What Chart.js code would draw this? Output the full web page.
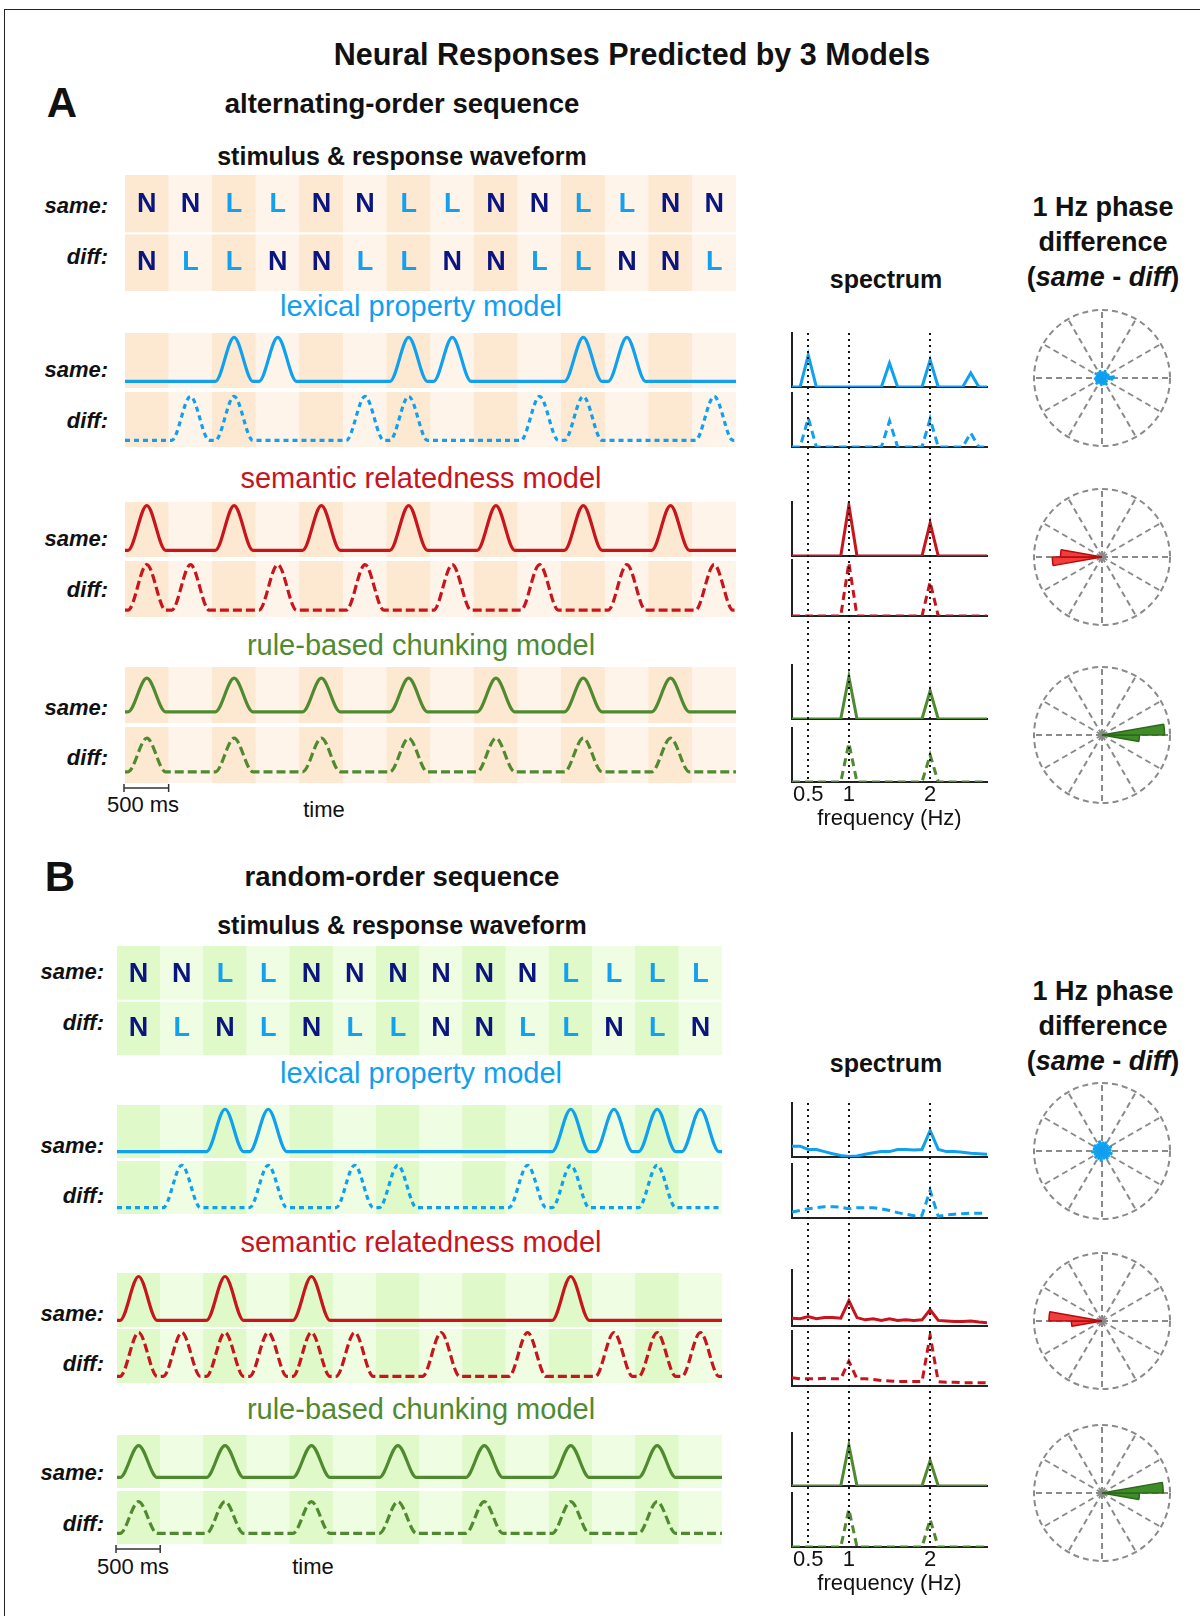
<!DOCTYPE html>
<html>
<head>
<meta charset="utf-8">
<script src="https://cdn.jsdelivr.net/npm/chart.js@4.4.1/dist/chart.umd.min.js"></script>
<style>
  body { margin: 0; background: #fff; }
  #page { position: relative; width: 1200px; height: 1616px; overflow: hidden;
          font-family: "Liberation Sans", Arial, sans-serif; color: #111; }
  .t { position: absolute; transform: translate(-50%, -50%); white-space: nowrap; line-height: 1; }
  .h { font-weight: bold; }
  .m { font-size: 29px; }
  .lab { position: absolute; transform: translate(-100%, -50%); font-weight: bold; font-style: italic;
         font-size: 22px; white-space: nowrap; line-height: 1; }
  canvas { position: absolute; }
</style>
</head>
<body>
<div id="page">
  <div style="position:absolute;left:4px;top:9px;width:1200px;height:1610px;border-top:1.5px solid #222;border-left:1.5px solid #222;"></div>

  <div class="t h" style="left:632px;top:54px;font-size:30.5px;">Neural Responses Predicted by 3 Models</div>

  <!-- panel A -->
  <div class="t h" style="left:62px;top:103px;font-size:42px;">A</div>
  <div class="t h" style="left:402px;top:104px;font-size:27.5px;">alternating-order sequence</div>
  <div class="t h" style="left:402px;top:156px;font-size:25px;">stimulus &amp; response waveform</div>
  <div class="lab" style="left:108px;top:206px;">same:</div>
  <div class="lab" style="left:108px;top:257px;">diff:</div>
  <div class="t m" style="left:421px;top:306px;color:#0fa0ef;">lexical property model</div>
  <div class="lab" style="left:108px;top:370px;">same:</div>
  <div class="lab" style="left:108px;top:421px;">diff:</div>
  <div class="t m" style="left:421px;top:478px;color:#c8141c;">semantic relatedness model</div>
  <div class="lab" style="left:108px;top:539px;">same:</div>
  <div class="lab" style="left:108px;top:590px;">diff:</div>
  <div class="t m" style="left:421px;top:645px;color:#4f8a30;">rule-based chunking model</div>
  <div class="lab" style="left:108px;top:708px;">same:</div>
  <div class="lab" style="left:108px;top:758px;">diff:</div>
  <div class="t" style="left:143px;top:805px;font-size:22px;">500 ms</div>
  <div class="t" style="left:324px;top:810px;font-size:22px;">time</div>
  <div class="t h" style="left:886px;top:279px;font-size:25px;">spectrum</div>
  <div class="t h" style="left:1103px;top:207px;font-size:27px;">1 Hz phase</div>
  <div class="t h" style="left:1103px;top:242px;font-size:27px;">difference</div>
  <div class="t h" style="left:1103px;top:277px;font-size:27px;">(<i>same</i> - <i>diff</i>)</div>

  <!-- panel B -->
  <div class="t h" style="left:60px;top:877px;font-size:42px;">B</div>
  <div class="t h" style="left:402px;top:877px;font-size:27.5px;">random-order sequence</div>
  <div class="t h" style="left:402px;top:925px;font-size:25px;">stimulus &amp; response waveform</div>
  <div class="lab" style="left:104px;top:972px;">same:</div>
  <div class="lab" style="left:104px;top:1023px;">diff:</div>
  <div class="t m" style="left:421px;top:1073px;color:#0fa0ef;">lexical property model</div>
  <div class="lab" style="left:104px;top:1146px;">same:</div>
  <div class="lab" style="left:104px;top:1196px;">diff:</div>
  <div class="t m" style="left:421px;top:1242px;color:#c8141c;">semantic relatedness model</div>
  <div class="lab" style="left:104px;top:1314px;">same:</div>
  <div class="lab" style="left:104px;top:1364px;">diff:</div>
  <div class="t m" style="left:421px;top:1409px;color:#4f8a30;">rule-based chunking model</div>
  <div class="lab" style="left:104px;top:1473px;">same:</div>
  <div class="lab" style="left:104px;top:1524px;">diff:</div>
  <div class="t" style="left:133px;top:1567px;font-size:22px;">500 ms</div>
  <div class="t" style="left:313px;top:1567px;font-size:22px;">time</div>
  <div class="t h" style="left:886px;top:1063px;font-size:25px;">spectrum</div>
  <div class="t h" style="left:1103px;top:991px;font-size:27px;">1 Hz phase</div>
  <div class="t h" style="left:1103px;top:1026px;font-size:27px;">difference</div>
  <div class="t h" style="left:1103px;top:1061px;font-size:27px;">(<i>same</i> - <i>diff</i>)</div>
</div>

<script>
// word sequences (N / L)
const seqSameA = ['N','N','L','L','N','N','L','L','N','N','L','L','N','N'];
const seqDiffA = ['N','L','L','N','N','L','L','N','N','L','L','N','N','L'];
const seqSameB = ['N','N','L','L','N','N','N','N','N','N','L','L','L','L'];
const seqDiffB = ['N','L','N','L','N','L','L','N','N','L','L','N','L','N'];

// predicted response to each word (peak height)
const lexSameA  = [0,0,1,1,0,0,1,1,0,0,1,1,0,0];
const lexDiffA  = [0,1,1,0,0,1,1,0,0,1,1,0,0,1];
const semSameA  = [1,0,1,0,1,0,1,0,1,0,1,0,1,0];
const semDiffA  = [1,1,0,1,0,1,0,1,0,1,0,1,0,1];
const ruleSameA = [.75,0,.75,0,.75,0,.75,0,.75,0,.75,0,.75,0];
const ruleDiffA = [.75,0,.75,0,.75,0,.75,0,.75,0,.75,0,.75,0];

const lexSameB  = [0,0,1,1,0,0,0,0,0,0,1,1,1,1];
const lexDiffB  = [0,1,0,1,0,1,1,0,0,1,1,0,1,0];
const semSameB  = [1,0,1,0,1,0,0,0,0,0,1,0,0,0];
const semDiffB  = [1,1,1,1,1,1,0,1,0,1,0,1,1,1];
const ruleSameB = [.75,0,.75,0,.75,0,.75,0,.75,0,.75,0,.75,0];
const ruleDiffB = [.75,0,.75,0,.75,0,.75,0,.75,0,.75,0,.75,0];

// spectra
const freqs = [0.3,0.4,0.5,0.6,0.7,0.8,0.9,1.0,1.1,1.2,1.3,1.4,1.5,1.6,1.7,1.8,1.9,2.0,2.1,2.2,2.3,2.4,2.5,2.6,2.7];
const freqTicks = [0.5, 1, 2];
const freqTickLabels = ['0.5', '1', '2'];

const specLexSameA  = [0,0,.59,0,0,0,0,0,0,0,0,0,.44,0,0,0,0,.50,0,0,0,0,.26,0,0];
const specLexDiffA  = [0,0,.54,0,0,0,0,0,0,0,0,0,.48,0,0,0,0,.52,0,0,0,0,.26,0,0];
const specSemSameA  = [0,0,0,0,0,0,0,.94,0,0,0,0,0,0,0,0,0,.61,0,0,0,0,0,0,0];
const specSemDiffA  = [0,0,0,0,0,0,0,.95,0,0,0,0,0,0,0,0,0,.61,0,0,0,0,0,0,0];
const specRuleSameA = [0,0,0,0,0,0,0,.78,0,0,0,0,0,0,0,0,0,.52,0,0,0,0,0,0,0];
const specRuleDiffA = [0,0,0,0,0,0,0,.72,0,0,0,0,0,0,0,0,0,.50,0,0,0,0,0,0,0];

const specLexSameB  = [.20,.20,.14,.14,.10,.06,.03,.01,.02,.05,.08,.10,.10,.14,.14,.13,.14,.49,.14,.10,.10,.09,.07,.06,.05];
const specLexDiffB  = [.11,.14,.17,.19,.21,.21,.20,.17,.19,.19,.19,.17,.14,.10,.07,.04,.05,.51,.03,.06,.07,.08,.09,.09,.09];
const specSemSameB  = [.14,.13,.17,.13,.15,.15,.14,.45,.15,.11,.13,.10,.13,.10,.11,.10,.11,.29,.10,.09,.08,.08,.09,.07,.06];
const specSemDiffB  = [.15,.13,.13,.13,.14,.13,.13,.45,.13,.13,.12,.10,.09,.08,.08,.08,.08,.92,.08,.07,.07,.06,.06,.06,.06];
const specRuleSameB = [0,0,0,0,0,0,0,.77,0,0,0,0,0,0,0,0,0,.48,0,0,0,0,0,0,0];
const specRuleDiffB = [0,0,0,0,0,0,0,.70,0,0,0,0,0,0,0,0,0,.51,0,0,0,0,0,0,0];

// 1 Hz phase difference histograms, 10 deg bins counter-clockwise from 0 deg (east)
const phaseLexA  = [.18,.04,.11,.03,.10,.04,.12,.03,.09,.05,.11,.03,.10,.04,.12,.03,.09,.05,
                    .11,.03,.10,.04,.12,.03,.09,.05,.11,.03,.10,.04,.12,.03,.09,.05,.04,.16];
const phaseSemA  = [0,0,0,0,0,0,0,0,0,0,0,0,0,0,0,0,0,.61,.73,0,0,0,0,0,0,0,0,0,0,0,0,0,0,0,0,0];
const phaseRuleA = [.92,0,0,0,0,0,0,0,0,0,0,0,0,0,0,0,0,0,0,0,0,0,0,0,0,0,0,0,0,0,0,0,0,0,0,.55];
const phaseLexB  = [.13,.05,.15,.04,.12,.06,.14,.05,.13,.04,.15,.06,.12,.05,.14,.04,.13,.06,
                    .15,.05,.12,.04,.14,.06,.13,.05,.15,.04,.12,.06,.14,.05,.13,.04,.15,.06];
const phaseSemB  = [0,0,0,0,0,0,0,0,0,0,0,0,0,0,0,0,0,.78,.45,0,0,0,0,0,0,0,0,0,0,0,0,0,0,0,0,0];
const phaseRuleB = [.90,0,0,0,0,0,0,0,0,0,0,0,0,0,0,0,0,0,0,0,0,0,0,0,0,0,0,0,0,0,0,0,0,0,0,.55];

// styles
const BLUE = '#0fa0ef', RED = '#c8141c', GREEN = '#4f8a30';
const LETTER_COLORS = { N: '#0b1580', L: '#12a0ef' };
const ORANGE = ['#fde8d1', '#fef4ea'];
const LIME = ['#dff9c8', '#effde3'];
const EDGE = 0.07;          // where a bump leaves the baseline inside its word slot
const PAD = 4;

Chart.defaults.font.family = '"Liberation Sans", Arial, sans-serif';
Chart.defaults.animation = false;
Chart.defaults.plugins.legend.display = false;
Chart.defaults.plugins.tooltip.enabled = false;

const page = document.getElementById('page');
function canvasAt(x, y, w, h, z) {
  const c = document.createElement('canvas');
  c.width = w; c.height = h;
  c.style.left = x + 'px'; c.style.top = y + 'px';
  c.style.width = w + 'px'; c.style.height = h + 'px';
  if (z) c.style.zIndex = z;
  page.appendChild(c);
  return c;
}

const letterPlugin = {
  id: 'letters',
  afterDatasetsDraw(chart) {
    const { ctx, scales: { x, y } } = chart;
    ctx.save();
    ctx.font = 'bold 27px "Liberation Sans", Arial';
    ctx.textAlign = 'center';
    ctx.textBaseline = 'middle';
    chart.data.datasets.forEach(ds => {
      ds.words.forEach((w, i) => {
        ctx.fillStyle = LETTER_COLORS[w];
        ctx.fillText(w, x.getPixelForValue(i + 0.5), y.getPixelForValue(ds.rowCenter) + 1);
      });
    });
    ctx.restore();
  }
};

const scaleBarPlugin = {
  id: 'scaleBar',
  afterDraw(chart) {
    const { ctx, chartArea, scales: { x } } = chart;
    const x0 = x.getPixelForValue(0) - 1, x1 = x.getPixelForValue(1);
    const y = chartArea.bottom + 5;
    ctx.save();
    ctx.strokeStyle = '#333';
    ctx.lineWidth = 1.5;
    ctx.beginPath();
    ctx.moveTo(x0, y); ctx.lineTo(x1, y);
    ctx.moveTo(x0, y - 4); ctx.lineTo(x0, y + 4);
    ctx.moveTo(x1, y - 4); ctx.lineTo(x1, y + 4);
    ctx.stroke();
    ctx.restore();
  }
};

// x axis over word slots; bars must not push the axis inwards
function slotAxis(n) {
  return { type: 'linear', min: 0, max: n, offset: false, display: false,
           grid: { offset: false }, ticks: { stepSize: 1 } };
}

function letterGrid(box, top, bottom, shade) {
  const [l, t, r, b] = box;
  const cv = canvasAt(l - PAD, t - PAD, r - l + 2 * PAD, b - t + 2 * PAD);
  const cell = (yr) => (s, i) => ({ x: i + 0.5, y: yr });
  const bar = {
    type: 'bar', backgroundColor: c => shade[c.dataIndex % 2], borderWidth: 0,
    barPercentage: 1, categoryPercentage: 1, grouped: false
  };
  new Chart(cv, {
    type: 'line',
    data: { datasets: [
      Object.assign({ data: top.map(cell([1.02, 2])), words: top, rowCenter: 1.5 }, bar),
      Object.assign({ data: bottom.map(cell([0, 0.97])), words: bottom, rowCenter: 0.5 }, bar)
    ] },
    options: {
      responsive: false, events: [], layout: { padding: PAD },
      scales: { x: slotAxis(top.length), y: { min: 0, max: 2, display: false } }
    },
    plugins: [letterPlugin]
  });
}

function waveform(box, resp, color, dash, shade, yr, withBar) {
  const [l, t, r, b] = box;
  const extra = withBar ? 14 : 0;
  const cv = canvasAt(l - PAD, t - PAD, r - l + 2 * PAD, b - t + 2 * PAD + extra);
  const pts = [{ x: 0, y: 0 }];
  resp.forEach((v, i) => {
    pts.push({ x: i + EDGE, y: 0 }, { x: i + 0.5, y: v }, { x: i + 1 - EDGE, y: 0 });
  });
  pts.push({ x: resp.length, y: 0 });
  new Chart(cv, {
    type: 'line',
    data: { datasets: [
      { type: 'line', data: pts, borderColor: color, borderWidth: 3.2, borderDash: dash,
        pointRadius: 0, cubicInterpolationMode: 'monotone', fill: false, order: 0 },
      { type: 'bar', data: resp.map((v, i) => ({ x: i + 0.5, y: yr })),
        backgroundColor: c => shade[c.dataIndex % 2], borderWidth: 0,
        barPercentage: 1, categoryPercentage: 1, grouped: false, order: 1 }
    ] },
    options: {
      responsive: false, events: [],
      layout: { padding: { left: PAD, right: PAD, top: PAD, bottom: PAD + extra } },
      scales: { x: slotAxis(resp.length), y: { min: yr[0], max: yr[1], display: false } }
    },
    plugins: withBar ? [scaleBarPlugin] : []
  });
}

function spectrum(box, vals, color, dash) {
  const [l, t, r, b] = box;
  const P = 6;
  const cv = canvasAt(l - P, t - P, r - l + 2 * P, b - t + 2 * P);
  const axis = {
    ticks: { display: false }, grid: { display: false, drawTicks: false },
    border: { display: true, color: '#222', width: 2 }
  };
  new Chart(cv, {
    type: 'line',
    data: { datasets: [{
      data: freqs.map((f, i) => ({ x: f, y: vals[i] })),
      borderColor: color, borderWidth: 3, borderDash: dash, pointRadius: 0, tension: 0
    }] },
    options: {
      responsive: false, events: [], layout: { padding: P },
      scales: {
        x: Object.assign({ type: 'linear', min: 0.3, max: 2.7 }, axis),
        y: Object.assign({ min: 0, max: 1 }, axis)
      }
    }
  });
}

function freqGrid(box) {
  const [l, t, r, b] = box;
  const P = 6, AX = 48;
  const cv = canvasAt(l - P, t - P, r - l + 2 * P, b - t + P + AX, 5);
  new Chart(cv, {
    type: 'line',
    data: { datasets: [] },
    options: {
      responsive: false, events: [],
      layout: { padding: { left: P, right: P, top: P, bottom: 0 } },
      scales: {
        x: {
          type: 'linear', min: 0.3, max: 2.7,
          afterBuildTicks: s => { s.ticks = freqTicks.map(v => ({ value: v })); },
          ticks: { padding: 2, color: '#111', font: { size: 22, lineHeight: 1 },
                   maxRotation: 0, autoSkip: false, callback: (v, i) => freqTickLabels[i] },
          grid: { color: '#111', lineWidth: 2, drawTicks: false },
          border: { display: false, dash: [2, 4] },
          title: { display: true, text: 'frequency (Hz)', color: '#111',
                   font: { size: 22, lineHeight: 1 }, padding: 0 }
        },
        y: { display: false, min: 0, max: 1 }
      }
    }
  });
}

function phasePlot(cx, cy, vals, fill, edge) {
  const R = 68, P = 4, S = 2 * (R + P);
  const gridCv = canvasAt(cx - R - P, cy - R - P, S, S);
  new Chart(gridCv, {
    type: 'radar',
    data: { labels: ['', '', '', '', '', '', '', '', '', '', '', ''], datasets: [] },
    options: {
      responsive: false, events: [], layout: { padding: P },
      scales: { r: {
        min: 0, max: 1,
        ticks: { display: false, stepSize: 1 },
        pointLabels: { display: false },
        grid: { circular: true, color: '#8a8a8a', lineWidth: 2 },
        border: { dash: [6, 4] },
        angleLines: { color: '#8a8a8a', lineWidth: 2, borderDash: [6, 4] }
      } }
    }
  });
  const roseCv = canvasAt(cx - R - P, cy - R - P, S, S, 2);
  new Chart(roseCv, {
    type: 'polarArea',
    data: {
      labels: vals.map((v, i) => (i * 10) + '°'),
      // polarArea runs clockwise, the bins are counter-clockwise
      datasets: [{ data: vals.slice().reverse(), backgroundColor: fill, borderColor: edge, borderWidth: 1.5 }]
    },
    options: {
      responsive: false, events: [], layout: { padding: P },
      scales: { r: { display: false, min: 0, max: 1, startAngle: 90 } }
    }
  });
}

const YR_LEX = [-0.15, 1.1], YR_SEM = [-0.15, 1.08], YR_RULE = [-0.25, 1.0];
const SOLID = [], DASH_LEX = [5, 4], DASH = [9, 4], DASH_SPEC = [8, 5];

// panel A
letterGrid([125, 175, 736, 291], seqSameA, seqDiffA, ORANGE);
waveform([125, 333, 736, 388], lexSameA, BLUE, SOLID, ORANGE, YR_LEX);
waveform([125, 392, 736, 447], lexDiffA, BLUE, DASH_LEX, ORANGE, YR_LEX);
waveform([125, 502, 736, 557], semSameA, RED, SOLID, ORANGE, YR_SEM);
waveform([125, 561, 736, 617], semDiffA, RED, DASH, ORANGE, YR_SEM);
waveform([125, 667, 736, 723], ruleSameA, GREEN, SOLID, ORANGE, YR_RULE);
waveform([125, 727, 736, 783], ruleDiffA, GREEN, DASH, ORANGE, YR_RULE, true);

spectrum([792, 333, 987, 387], specLexSameA, BLUE, SOLID);
spectrum([792, 393, 987, 447], specLexDiffA, BLUE, DASH_SPEC);
spectrum([792, 502, 987, 556], specSemSameA, RED, SOLID);
spectrum([792, 560, 987, 616], specSemDiffA, RED, DASH_SPEC);
spectrum([792, 665, 987, 719], specRuleSameA, GREEN, SOLID);
spectrum([792, 728, 987, 782], specRuleDiffA, GREEN, DASH_SPEC);
freqGrid([792, 333, 987, 782]);

phasePlot(1102, 378, phaseLexA, BLUE, BLUE);
phasePlot(1102, 557, phaseSemA, 'rgba(240,45,45,0.92)', '#b80c0c');
phasePlot(1102, 735, phaseRuleA, '#3f8c29', '#2c6a1a');

// panel B
letterGrid([117, 946, 722, 1055], seqSameB, seqDiffB, LIME);
waveform([117, 1105, 722, 1158], lexSameB, BLUE, SOLID, LIME, YR_LEX);
waveform([117, 1161, 722, 1214], lexDiffB, BLUE, DASH_LEX, LIME, YR_LEX);
waveform([117, 1273, 722, 1327], semSameB, RED, SOLID, LIME, YR_SEM);
waveform([117, 1329, 722, 1383], semDiffB, RED, DASH, LIME, YR_SEM);
waveform([117, 1435, 722, 1488], ruleSameB, GREEN, SOLID, LIME, YR_RULE);
waveform([117, 1491, 722, 1544], ruleDiffB, GREEN, DASH, LIME, YR_RULE, true);

spectrum([792, 1103, 987, 1157], specLexSameB, BLUE, SOLID);
spectrum([792, 1164, 987, 1218], specLexDiffB, BLUE, DASH_SPEC);
spectrum([792, 1270, 987, 1326], specSemSameB, RED, SOLID);
spectrum([792, 1331, 987, 1386], specSemDiffB, RED, DASH_SPEC);
spectrum([792, 1433, 987, 1486], specRuleSameB, GREEN, SOLID);
spectrum([792, 1493, 987, 1547], specRuleDiffB, GREEN, DASH_SPEC);
freqGrid([792, 1103, 987, 1547]);

phasePlot(1102, 1151, phaseLexB, BLUE, BLUE);
phasePlot(1102, 1321, phaseSemB, 'rgba(240,45,45,0.92)', '#b80c0c');
phasePlot(1102, 1493, phaseRuleB, '#3f8c29', '#2c6a1a');
</script>
</body>
</html>
